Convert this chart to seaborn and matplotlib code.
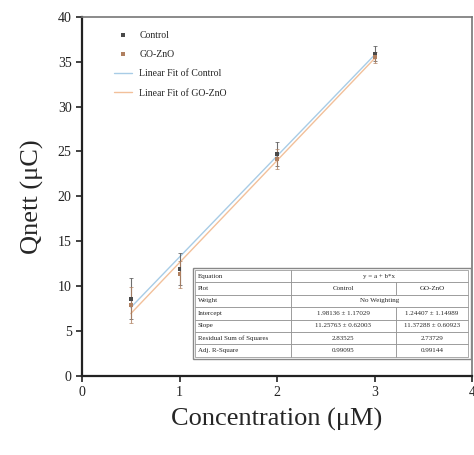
import numpy as np
import pandas as pd
import matplotlib
matplotlib.use("Agg")
import matplotlib.pyplot as plt
import seaborn as sns

# Measured net charge vs concentration (mean ± error)
concentration = [0.5, 1.0, 2.0, 3.0]
control_mean = [8.6, 11.9, 24.7, 35.9]
control_err = [2.3, 1.8, 1.3, 0.8]
gozno_mean = [7.9, 11.3, 24.2, 35.5]
gozno_err = [2.0, 1.5, 1.1, 0.6]

series_names = ["Control", "GO-ZnO"]
fit_names = ["Linear Fit of Control", "Linear Fit of GO-ZnO"]
x_ticks = [0, 1, 2, 3, 4]
y_ticks = [0, 5, 10, 15, 20, 25, 30, 35, 40]

point_colors = ["#4a4a4a", "#b08060"]
fit_colors = ["#a8cce6", "#f2c09a"]

sns.set_theme(style="white")
plt.rcParams["font.family"] = ["Liberation Serif", "DejaVu Serif"]

df = pd.DataFrame({
    "x": concentration * 2,
    "y": control_mean + gozno_mean,
    "err": control_err + gozno_err,
    "group": [series_names[0]] * 4 + [series_names[1]] * 4,
})

fig = plt.figure(figsize=(4.74, 4.55), dpi=100)
ax = fig.add_axes([0.173, 0.174, 0.823, 0.789])

fits = []
for i, name in enumerate(series_names):
    sub = df[df["group"] == name]
    ax.errorbar(sub["x"], sub["y"], yerr=sub["err"], fmt="none",
                ecolor=point_colors[i], elinewidth=0.8, capsize=1.5,
                capthick=0.6, alpha=0.8, zorder=3)
    sns.regplot(data=sub, x="x", y="y", scatter=False, ci=None, truncate=True,
                ax=ax, color=fit_colors[i], line_kws={"lw": 1.0, "zorder": 2},
                label=fit_names[i])
    coef, cov = np.polyfit(sub["x"], sub["y"], 1, cov=True)
    pred = np.polyval(coef, sub["x"])
    rss = float(np.sum((sub["y"] - pred) ** 2))
    tss = float(np.sum((sub["y"] - sub["y"].mean()) ** 2))
    n = len(sub)
    adj_r2 = 1 - (rss / (n - 2)) / (tss / (n - 1))
    fits.append((coef, np.sqrt(np.diag(cov)), rss, adj_r2))

sns.scatterplot(data=df, x="x", y="y", hue="group", palette=point_colors,
                s=8, marker="s", linewidth=0, ax=ax, zorder=4, legend=True)

ax.set_xlim(0, 4)
ax.set_ylim(0, 40)
ax.set_xticks(x_ticks)
ax.set_yticks(y_ticks)
ax.tick_params(axis="both", direction="out", length=4, width=1.2,
               labelsize=10, colors="#222222", bottom=True, left=True)
ax.set_xlabel("Concentration (\u03bcM)", fontsize=19, labelpad=6)
ax.set_ylabel("Qnett (\u03bcC)", fontsize=19, labelpad=10)
for side in ["left", "bottom"]:
    ax.spines[side].set_color("#222222")
    ax.spines[side].set_linewidth(1.6)
for side in ["top", "right"]:
    ax.spines[side].set_color("#777777")
    ax.spines[side].set_linewidth(1.2)

handles, labels = ax.get_legend_handles_labels()
order = [labels.index(n) for n in series_names + fit_names]
ax.legend([handles[k] for k in order], [labels[k] for k in order],
          loc="upper left", bbox_to_anchor=(0.06, 0.985), frameon=False,
          fontsize=7, handlelength=1.8, labelspacing=1.05, markerscale=0.8)

# Fit summary table
(c_coef, c_se, c_rss, c_r2), (g_coef, g_se, g_rss, g_r2) = fits
rows = [
    ["Equation", "", ""],
    ["Plot", series_names[0], series_names[1]],
    ["Weight", "", ""],
    ["Intercept", f"{c_coef[1]:.5f} \u00b1 {c_se[1]:.5f}", f"{g_coef[1]:.5f} \u00b1 {g_se[1]:.5f}"],
    ["Slope", f"{c_coef[0]:.5f} \u00b1 {c_se[0]:.5f}", f"{g_coef[0]:.5f} \u00b1 {g_se[0]:.5f}"],
    ["Residual Sum of Squares", f"{c_rss:.5f}", f"{g_rss:.5f}"],
    ["Adj. R-Square", f"{c_r2:.5f}", f"{g_r2:.5f}"],
]
col_w = [0.245, 0.27, 0.185]
x0, y0, w, h = 0.29, 0.053, sum(col_w), 0.242
tbl = ax.table(cellText=rows, colWidths=col_w, cellLoc="center",
               bbox=[x0, y0, w, h], zorder=5)
tbl.auto_set_font_size(False)
tbl.set_fontsize(5)
for (r, c), cell in tbl.get_celld().items():
    cell.set_edgecolor("#888888")
    cell.set_linewidth(0.5)
    cell.set_facecolor("white")
    if c == 0:
        cell.get_text().set_ha("left")
        cell.PAD = 0.03
    if r in (0, 2):
        if c == 1:
            cell.visible_edges = "LTB"
        elif c == 2:
            cell.visible_edges = "RTB"
row_h = h / len(rows)
mid_x = x0 + col_w[0] + (col_w[1] + col_w[2]) / 2
ax.text(mid_x, y0 + h - 0.5 * row_h, "y = a + b*x", transform=ax.transAxes,
        ha="center", va="center", fontsize=5, zorder=6)
ax.text(mid_x, y0 + h - 2.5 * row_h, "No Weighting", transform=ax.transAxes,
        ha="center", va="center", fontsize=5, zorder=6)
ax.add_patch(plt.Rectangle((x0 - 0.006, y0 - 0.006), w + 0.012, h + 0.012,
                           transform=ax.transAxes, fill=False, lw=1.0,
                           edgecolor="#888888", zorder=6))

fig.savefig("out.png", dpi=100)
